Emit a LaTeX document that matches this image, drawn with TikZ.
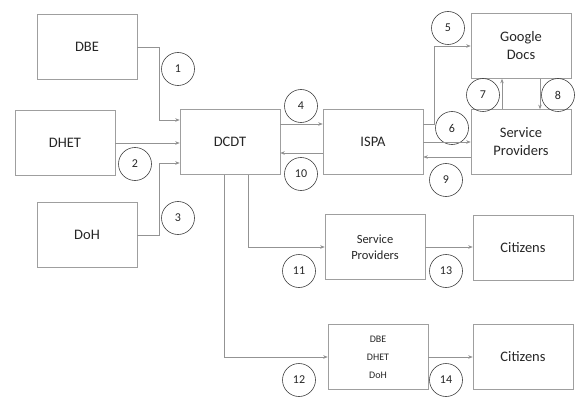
\documentclass[tikz,border=0pt]{standalone}
\usepackage{fontspec}
\setmainfont{Carlito}
\usepackage{tikz}
\usetikzlibrary{arrows.meta, positioning}
\usepackage{xcolor}

\begin{document}
\begin{tikzpicture}[x=1pt,y=-1pt,>={Stealth[length=4.5pt,width=3.5pt]}]
  \tikzstyle{box}=[draw=gray!75,line width=0.6pt,minimum width=100pt,minimum height=65pt,
    align=center,text=black!85,font=\fontsize{14.5}{18}\selectfont]
  \tikzstyle{num}=[circle,draw=black!75,line width=0.6pt,minimum size=33pt,inner sep=0pt,
    text=black!85,font=\fontsize{12}{14}\selectfont]
  \tikzstyle{flow}=[draw=gray!85,line width=0.5pt,->]

  \useasboundingbox (0,0) rectangle (586,409);

  \node[box]                    (dbe)   at (87,47)   {DBE};
  \node[box]                    (dhet)  at (65,143)  {DHET};
  \node[box]                    (doh)   at (87,235)  {DoH};
  \node[box]                    (dcdt)  at (230,142) {DCDT};
  \node[box]                    (ispa)  at (373,142) {ISPA};
  \node[box]                    (gdocs) at (521,46)  {Google\\Docs};
  \node[box]                    (sp)    at (521,142) {Service\\Providers};
  \node[box,font=\fontsize{12.5}{16}\selectfont]
                                (spmid) at (375,247) {Service\\Providers};
  \node[box]                    (cit1)  at (523,248) {Citizens};
  \node[box,font=\fontsize{10}{18}\selectfont]
                                (depts) at (378,357) {DBE\\DHET\\DoH};
  \node[box]                    (cit2)  at (523,357) {Citizens};

  \node[num] (n1)  at (178,69)  {1};
  \node[num] (n2)  at (135,164) {2};
  \node[num] (n3)  at (178,218) {3};
  \node[num] (n4)  at (301,106) {4};
  \node[num] (n5)  at (448,28)  {5};
  \node[num] (n6)  at (452,128) {6};
  \node[num] (n7)  at (483,95)  {7};
  \node[num] (n8)  at (558,95)  {8};
  \node[num] (n9)  at (446,180) {9};
  \node[num] (n10) at (301,174) {10};
  \node[num] (n11) at (299,271) {11};
  \node[num] (n12) at (299,380) {12};
  \node[num] (n13) at (446,271) {13};
  \node[num] (n14) at (446,380) {14};

  \draw[flow] (dbe.east) -- ++(22,0) |- ([yshift=22pt]dcdt.west);
  \draw[flow] (dhet.east) -- (dhet.east -| dcdt.west);
  \draw[flow] (doh.east) -- ++(22,0) |- ([yshift=-21pt]dcdt.west);
  \draw[flow] ([yshift=18pt]dcdt.east) -- ([yshift=18pt]ispa.west);
  \draw[flow] ([yshift=-11pt]ispa.west) -- ([yshift=-11pt]dcdt.east);
  \draw[flow] ([yshift=18pt]ispa.east) -- ++(11,0) |- (gdocs.west);
  \draw[flow] (ispa.east) -- (sp.west);
  \draw[flow] ([yshift=-15pt]sp.west) -- ([yshift=-15pt]ispa.east);
  \draw[flow] ([xshift=-19pt]sp.north) -- ([xshift=-19pt]gdocs.south);
  \draw[flow] ([xshift=19pt]gdocs.south) -- ([xshift=19pt]sp.north);
  \draw[flow] ([xshift=18pt]dcdt.south) |- (spmid.west);
  \draw[flow] ([xshift=-6pt]dcdt.south) |- (depts.west);
  \draw[flow] (spmid.east) -- (spmid.east -| cit1.west);
  \draw[flow] (depts.east) -- (depts.east -| cit2.west);
\end{tikzpicture}
\end{document}
